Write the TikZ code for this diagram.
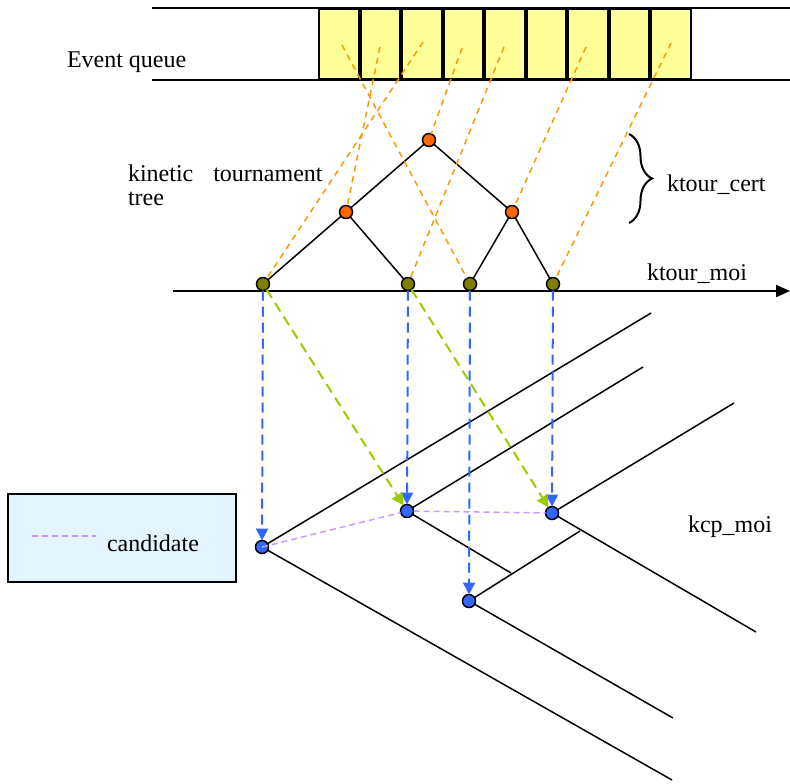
\documentclass[tikz,border=0pt]{standalone}
\usepackage{fontspec}
\setmainfont{Liberation Serif}
\newfontfamily\timesrm{Liberation Serif}
\usetikzlibrary{arrows.meta,decorations.pathreplacing}
\definecolor{qyellow}{HTML}{FFFF99}
\definecolor{torange}{HTML}{FF6600}
\definecolor{dorange}{HTML}{FF9900}
\definecolor{leafolive}{HTML}{808000}
\definecolor{kblue}{HTML}{3366FF}
\definecolor{mgreen}{HTML}{99CC00}
\definecolor{cpurple}{HTML}{CC99FF}
\definecolor{legblue}{HTML}{E3F3FF}

\begin{document}
\begin{tikzpicture}[x=0.5pt, y=-0.5pt, font=\timesrm\fontsize{12}{12}\selectfont,
  every node/.style={outer sep=0pt},
  cell/.style={draw, line width=1pt, fill=qyellow, minimum width=20.78pt-\pgflinewidth, minimum height=36pt-\pgflinewidth},
  dot/.style={circle, draw, line width=0.75pt, inner sep=0pt, minimum size=6.5pt},
  inner/.style={dot, fill=torange},
  leaf/.style={dot, fill=leafolive},
  kcp/.style={dot, fill=kblue},
  lbl/.style={inner sep=0pt, anchor=base west},
  edge/.style={line width=0.75pt},
  cert/.style={dorange, line width=0.75pt, dash pattern=on 3pt off 2.5pt},
  drop/.style={kblue, line width=1pt, dash pattern=on 5pt off 3pt, -{Triangle[length=6pt,width=6pt]}},
  move/.style={mgreen, line width=1pt, dash pattern=on 5pt off 3pt, -{Triangle[length=6pt,width=6pt]}},
  cand/.style={cpurple, line width=0.75pt, dash pattern=on 3pt off 2pt}]
\useasboundingbox (0,0) rectangle (790,783);

% event queue
\draw[line width=1pt] (152,8) -- (790,8);
\draw[line width=1pt] (152,80) -- (790,80);
\node[cell] (c1) at (338.8,44) {};
\node[cell] (c2) at (380.3,44) {};
\node[cell] (c3) at (421.9,44) {};
\node[cell] (c4) at (463.4,44) {};
\node[cell] (c5) at (505.0,44) {};
\node[cell] (c6) at (546.6,44) {};
\node[cell] (c7) at (588.1,44) {};
\node[cell] (c8) at (629.7,44) {};
\node[cell] (c9) at (671.2,44) {};
\node[lbl] (evq) at (67,67) {Event queue};

\coordinate (e1) at (342,45);
\coordinate (e2) at (380,47);
\coordinate (e3) at (423,42);
\coordinate (e4) at (462,48);
\coordinate (e5) at (504,47);
\coordinate (e7) at (586,47);
\coordinate (e9) at (671,43);

% kinetic tournament
\draw[line width=1pt, -{Triangle[length=7pt,width=6pt]}] (173,291) -- (790,291);
\node[inner] (root) at (429,140) {};
\node[inner] (ml) at (346,212) {};
\node[inner] (mr) at (512,212) {};
\node[leaf] (l1) at (263,284) {};
\node[leaf] (l2) at (408,284) {};
\node[leaf] (l3) at (470,284) {};
\node[leaf] (l4) at (553,284) {};
\draw[edge] (root) -- (ml);
\draw[edge] (root) -- (mr);
\draw[edge] (ml) -- (l1);
\draw[edge] (ml) -- (l2);
\draw[edge] (mr) -- (l3);
\draw[edge] (mr) -- (l4);

\draw[cert] (e1) -- (l3);
\draw[cert] (e2) -- (ml);
\draw[cert] (e3) -- (l1);
\draw[cert] (e4) -- (root);
\draw[cert] (e5) -- (l2);
\draw[cert] (e7) -- (mr);
\draw[cert] (e9) -- (l4);

\node[lbl, align=left] (ktt) at (128,205) {kinetic\hspace{7pt} tournament\\tree};
\coordinate (br1) at (629,134);
\coordinate (br2) at (629,223);
\draw[line width=1pt, decorate, decoration={brace, amplitude=11.5pt}] (br1) -- (br2);
\node[lbl] (kcert) at (667,191) {ktour\_cert};
\node[lbl] (kmoi) at (647,280) {ktour\_moi};

% kinetic closest pair
\node[kcp] (b1) at (262,547) {};
\node[kcp] (b2) at (407,511) {};
\node[kcp] (b3) at (469,601) {};
\node[kcp] (b4) at (552,513) {};
\coordinate (u1) at (651,313);
\coordinate (d1) at (672,780);
\coordinate (u2) at (643,367);
\coordinate (d2) at (511,573);
\coordinate (u3) at (580,531);
\coordinate (d3) at (673,718);
\coordinate (u4) at (734,403);
\coordinate (d4) at (756,632);
\draw[edge] (b1) -- (u1);
\draw[edge] (b1) -- (d1);
\draw[edge] (b2) -- (u2);
\draw[edge] (b2) -- (d2);
\draw[edge] (b3) -- (u3);
\draw[edge] (b3) -- (d3);
\draw[edge] (b4) -- (u4);
\draw[edge] (b4) -- (d4);

\draw[drop] (l1) -- (b1);
\draw[drop] (l2) -- (b2);
\draw[drop] (l3) -- (b3);
\draw[drop] (l4) -- (b4);
\draw[move] (l1) -- (b2);
\draw[move] (l2) -- (b4);
\draw[cand] (b1.center) -- (b2);
\draw[cand] (b2) -- (b4);
\node[lbl] (kcpm) at (688,532) {kcp\_moi};

% legend
\node[draw, line width=1pt, fill=legblue, minimum width=115pt-\pgflinewidth, minimum height=45pt-\pgflinewidth] (leg) at (122,538) {};
\coordinate (lg1) at (32,536);
\coordinate (lg2) at (96,536);
\draw[cand] (lg1) -- (lg2);
\node[lbl] (lgt) at (107,551) {candidate};
\end{tikzpicture}
\end{document}
